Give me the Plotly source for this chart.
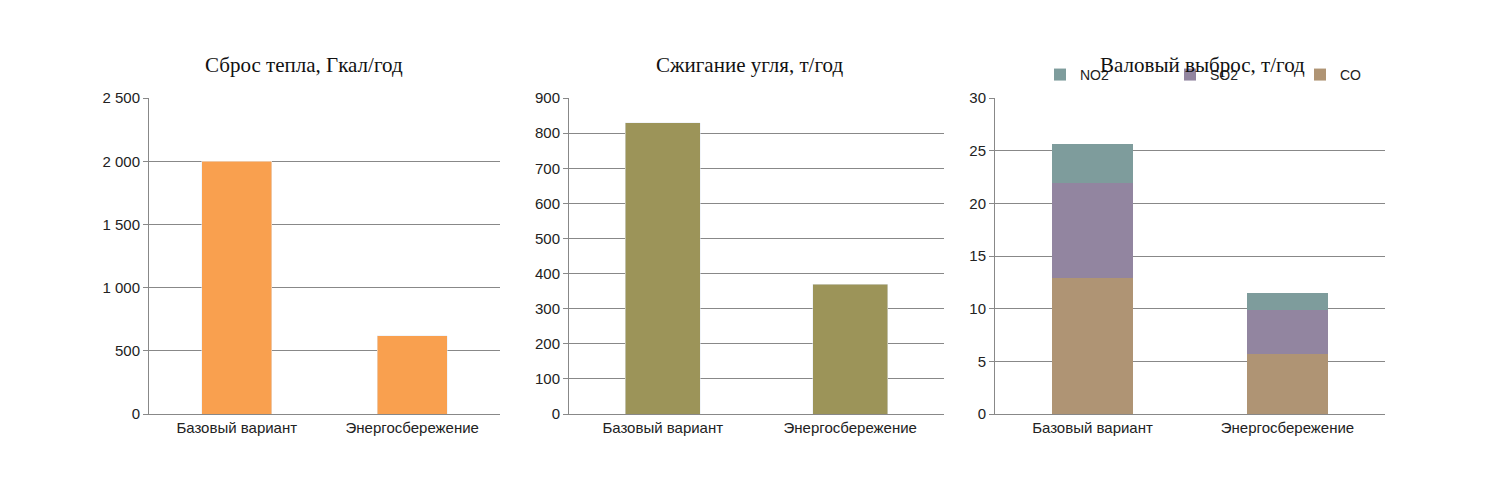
import plotly.graph_objects as go

categories = ["Базовый вариант", "Энергосбережение"]
heat = [2000, 620]
coal = [830, 370]
co = [12.9, 5.7]
so2 = [9.0, 4.2]
no2 = [3.7, 1.6]

fig = go.Figure()
fig.add_trace(go.Bar(x=categories, y=heat, marker_color="#F9A04F", width=0.4,
                     showlegend=False, xaxis="x", yaxis="y"))
fig.add_trace(go.Bar(x=categories, y=coal, marker_color="#9C9459", width=0.4,
                     showlegend=False, xaxis="x2", yaxis="y2"))
for name, vals, col in [("CO", co, "#AF9474"), ("SO2", so2, "#9285A0"), ("NO2", no2, "#7E9C9C")]:
    fig.add_trace(go.Bar(x=categories, y=vals, name=name, marker_color=col, width=0.42,
                         marker_line_width=0, xaxis="x3", yaxis="y3"))

ax = dict(showgrid=False, showline=True, linecolor="#888", ticks="outside",
          tickcolor="#888", ticklen=0, tickfont=dict(family="Liberation Sans", size=15, color="#222"))
ay = dict(showgrid=True, gridcolor="#888", showline=True, linecolor="#888",
          ticks="outside", tickcolor="#888", ticklen=5, zeroline=False,
          tickfont=dict(family="Liberation Sans", size=15, color="#222"))
yd = [0.178, 0.832]

fig.update_layout(
    width=1500, height=500, barmode="stack",
    margin=dict(l=0, r=0, t=0, b=0),
    plot_bgcolor="white", paper_bgcolor="white",
    separators=", ",
    xaxis=dict(domain=[0.094, 0.328], anchor="y", **ax),
    yaxis=dict(domain=yd, anchor="x", range=[0, 2500], dtick=500, tickformat=",d", **ay),
    xaxis2=dict(domain=[0.374, 0.624], anchor="y2", **ax),
    yaxis2=dict(domain=yd, anchor="x2", range=[0, 900], dtick=100, **ay),
    xaxis3=dict(domain=[0.658, 0.918], anchor="y3", **ax),
    yaxis3=dict(domain=yd, anchor="x3", range=[0, 30], dtick=5, **ay),
    legend=dict(orientation="h", x=0.688, y=0.88, xanchor="left", yanchor="middle",
                traceorder="reversed", entrywidth=85,
                font=dict(family="Liberation Sans", size=14, color="#222"),
                itemwidth=30),
    bargap=0.6,
)

tf = dict(family="Liberation Serif", size=21, color="#111")
for x, t in [(0.197, "Сброс тепла, Гкал/год"), (0.494, "Сжигание угля, т/год"),
             (0.796, "Валовый выброс, т/год")]:
    fig.add_annotation(x=x, y=0.93, xref="paper", yref="paper", text=t, xanchor="center",
                       showarrow=False, font=tf)

fig.write_html("out.html")
